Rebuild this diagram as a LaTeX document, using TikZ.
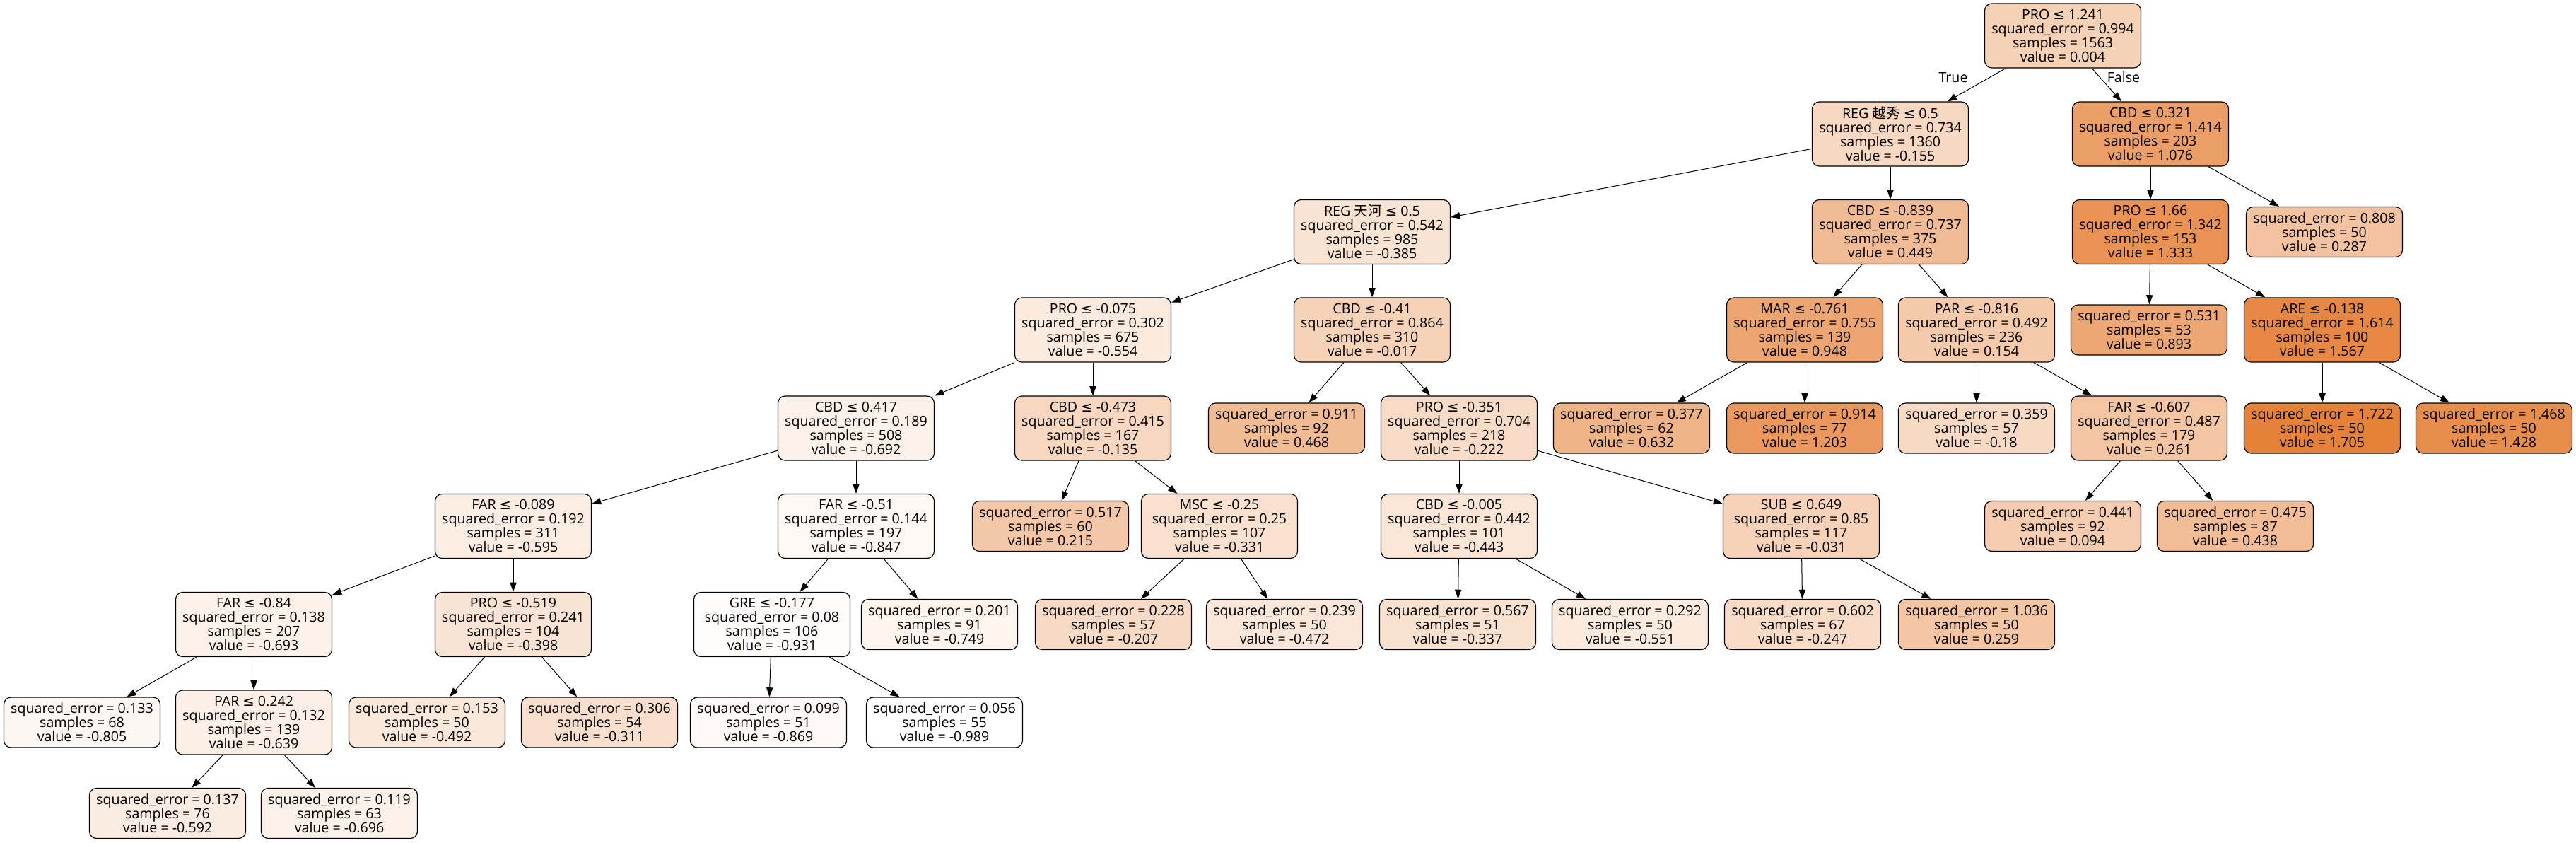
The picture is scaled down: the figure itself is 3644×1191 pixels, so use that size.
\documentclass[tikz,border=0pt]{standalone}
\usepackage{fontspec}
\setmainfont{Open Sans}
\newfontfamily\cjk{Noto Sans CJK SC}
\newfontfamily\symfont{DejaVu Sans}
\usetikzlibrary{arrows.meta}
\definecolor{treeorange}{RGB}{229,129,57}
\newcommand{\lteq}{{\symfont ≤}}
\tikzset{
  treebox/.style={draw, rounded corners=5pt, line width=0.6pt, align=center,
    minimum width=110.5pt, inner sep=2pt, font=\fontsize{9.8}{10}\selectfont},
  splitbox/.style={treebox, minimum height=45.5pt},
  leafbox/.style={treebox, minimum height=35.5pt},
  treeedge/.style={line width=0.5pt, -{Triangle[length=6.6pt,width=4.6pt]}},
  edgelabel/.style={font=\fontsize{9.8}{10}\selectfont}
}
\begin{document}
\begin{tikzpicture}[x=0.5pt,y=-0.5pt]
\useasboundingbox (0,0) rectangle (3644,1191);
% shade: white -> orange, from the lowest to the highest value
\def\vmin{-0.989}
\def\vspan{2.694}
\newcommand{\splitnode}[7]{
  \pgfmathsetmacro{\shade}{100*((#7)-(\vmin))/\vspan}
  \node[splitbox, fill=treeorange!\shade!white] (#1) at (#2,#3)
    {#4\\squared\_error = #5\\samples = #6\\value = #7};
}
\newcommand{\leafnode}[6]{
  \pgfmathsetmacro{\shade}{100*((#6)-(\vmin))/\vspan}
  \node[leafbox, fill=treeorange!\shade!white] (#1) at (#2,#3)
    {squared\_error = #4\\samples = #5\\value = #6};
}

% depth 0 - 2
\splitnode{n0}{2918}{50.5}{PRO \lteq{} 1.241}{0.994}{1563}{0.004}
\splitnode{n1}{2674}{189.5}{REG {\cjk 越秀} \lteq{} 0.5}{0.734}{1360}{-0.155}
\splitnode{n2}{3042}{189.5}{CBD \lteq{} 0.321}{1.414}{203}{1.076}
\splitnode{n3}{1941}{328}{REG {\cjk 天河} \lteq{} 0.5}{0.542}{985}{-0.385}
\splitnode{n4}{2674}{328}{CBD \lteq{} -0.839}{0.737}{375}{0.449}
\splitnode{n5}{3042}{328}{PRO \lteq{} 1.66}{1.342}{153}{1.333}
\leafnode{n6}{3288}{328}{0.808}{50}{0.287}
% depth 3
\splitnode{n7}{1546}{466.5}{PRO \lteq{} -0.075}{0.302}{675}{-0.554}
\splitnode{n8}{1941}{466.5}{CBD \lteq{} -0.41}{0.864}{310}{-0.017}
\splitnode{n9}{2553}{466.5}{MAR \lteq{} -0.761}{0.755}{139}{0.948}
\splitnode{n10}{2796}{466.5}{PAR \lteq{} -0.816}{0.492}{236}{0.154}
\leafnode{n11}{3040}{466.5}{0.531}{53}{0.893}
\splitnode{n12}{3285}{466.5}{ARE \lteq{} -0.138}{1.614}{100}{1.567}
% depth 4
\splitnode{n13}{1211}{605.5}{CBD \lteq{} 0.417}{0.189}{508}{-0.692}
\splitnode{n14}{1546}{605.5}{CBD \lteq{} -0.473}{0.415}{167}{-0.135}
\leafnode{n15}{1820}{605.5}{0.911}{92}{0.468}
\splitnode{n16}{2064}{605.5}{PRO \lteq{} -0.351}{0.704}{218}{-0.222}
\leafnode{n17}{2308}{605.5}{0.377}{62}{0.632}
\leafnode{n18}{2553}{605.5}{0.914}{77}{1.203}
\leafnode{n19}{2796}{605.5}{0.359}{57}{-0.18}
\splitnode{n20}{3040}{605.5}{FAR \lteq{} -0.607}{0.487}{179}{0.261}
\leafnode{n21}{3285}{605.5}{1.722}{50}{1.705}
\leafnode{n22}{3528}{605.5}{1.468}{50}{1.428}
% depth 5
\splitnode{n23}{726}{744}{FAR \lteq{} -0.089}{0.192}{311}{-0.595}
\splitnode{n24}{1211}{744}{FAR \lteq{} -0.51}{0.144}{197}{-0.847}
\leafnode{n25}{1486}{744}{0.517}{60}{0.215}
\splitnode{n26}{1725}{744}{MSC \lteq{} -0.25}{0.25}{107}{-0.331}
\splitnode{n27}{2064}{744}{CBD \lteq{} -0.005}{0.442}{101}{-0.443}
\splitnode{n28}{2548}{744}{SUB \lteq{} 0.649}{0.85}{117}{-0.031}
\leafnode{n29}{2918}{744}{0.441}{92}{0.094}
\leafnode{n30}{3162}{744}{0.475}{87}{0.438}
% depth 6
\splitnode{n31}{359}{883}{FAR \lteq{} -0.84}{0.138}{207}{-0.693}
\splitnode{n32}{726}{883}{PRO \lteq{} -0.519}{0.241}{104}{-0.398}
\splitnode{n33}{1092}{883}{GRE \lteq{} -0.177}{0.08}{106}{-0.931}
\leafnode{n34}{1329}{883}{0.201}{91}{-0.749}
\leafnode{n35}{1575}{883}{0.228}{57}{-0.207}
\leafnode{n36}{1817}{883}{0.239}{50}{-0.472}
\leafnode{n37}{2062}{883}{0.567}{51}{-0.337}
\leafnode{n38}{2306}{883}{0.292}{50}{-0.551}
\leafnode{n39}{2550}{883}{0.602}{67}{-0.247}
\leafnode{n40}{2796}{883}{1.036}{50}{0.259}
% depth 7 - 8
\leafnode{n41}{116}{1021.5}{0.133}{68}{-0.805}
\splitnode{n42}{359}{1021.5}{PAR \lteq{} 0.242}{0.132}{139}{-0.639}
\leafnode{n43}{604}{1021.5}{0.153}{50}{-0.492}
\leafnode{n44}{848}{1021.5}{0.306}{54}{-0.311}
\leafnode{n45}{1087}{1021.5}{0.099}{51}{-0.869}
\leafnode{n46}{1336}{1021.5}{0.056}{55}{-0.989}
\leafnode{n47}{237}{1150}{0.137}{76}{-0.592}
\leafnode{n48}{480}{1150}{0.119}{63}{-0.696}

% edges parent/child
\foreach \a/\b in {n0/n1, n0/n2, n1/n3, n1/n4, n2/n5, n2/n6,
    n3/n7, n3/n8, n4/n9, n4/n10, n5/n11, n5/n12,
    n7/n13, n7/n14, n8/n15, n8/n16, n9/n17, n9/n18, n10/n19, n10/n20,
    n12/n21, n12/n22, n13/n23, n13/n24, n14/n25, n14/n26, n16/n27, n16/n28,
    n20/n29, n20/n30, n23/n31, n23/n32, n24/n33, n24/n34, n26/n35, n26/n36,
    n27/n37, n27/n38, n28/n39, n28/n40, n31/n41, n31/n42, n32/n43, n32/n44,
    n33/n45, n33/n46, n42/n47, n42/n48}
  \draw[treeedge] (\a) -- (\b);

\node[edgelabel] (truelbl) at (2763,110) {True};
\node[edgelabel] (falselbl) at (3004,109) {False};
\end{tikzpicture}
\end{document}
